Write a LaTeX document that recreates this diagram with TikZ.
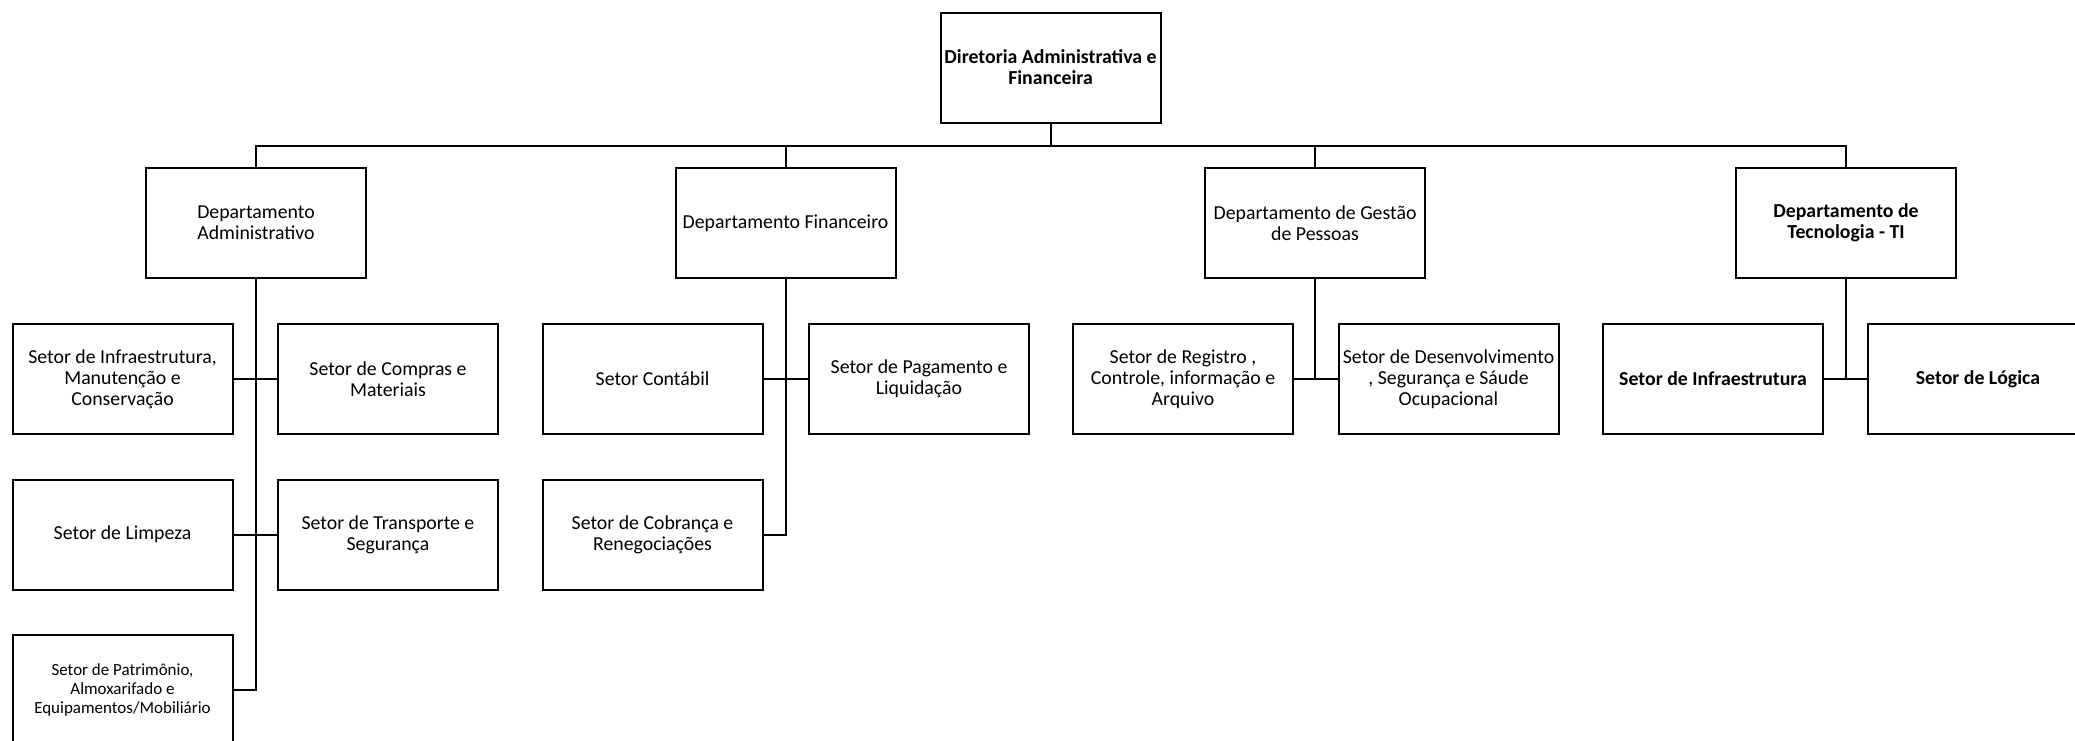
\documentclass[tikz,border=0pt]{standalone}
\usepackage{fontspec}
\setmainfont{Carlito}

\definecolor{Trait}{HTML}{000000}

\tikzset{
  boite/.style={draw=Trait, line width=1pt, minimum width=110pt, minimum height=55pt,
    inner sep=0.5pt, align=center, font=\fontsize{9.9}{10.6}\selectfont},
  boitegras/.style={boite, font=\fontsize{9.9}{10.6}\selectfont\bfseries},
  lien/.style={draw=Trait, line width=1pt},
}

\begin{document}
\begin{tikzpicture}[x=0.5pt, y=-0.5pt]

 \useasboundingbox (0,0) rectangle (2075,740);

 %%%%%%%%%% Points pour travailler %%%%%%%%%%
 \coordinate (bus) at (0,146);

 %%%%%%%%%% Diretoria %%%%%%%%%%
 \node[boitegras] (dir) at (1050.5,67.5) {Diretoria Administrativa e\\Financeira};

 %%%%%%%%%% Departamentos %%%%%%%%%%
 \node[boite] (adm) at (256,223) {Departamento\\Administrativo};
 \node[boite] (fin) at (785.5,223) {Departamento Financeiro};
 \node[boite] (gp) at (1315,223) {Departamento de Gestão\\de Pessoas};
 \node[boitegras] (ti) at (1846,223) {Departamento de\\Tecnologia - TI};

 %%%%%%%%%% Setores - Administrativo %%%%%%%%%%
 \node[boite] (infra) at (122.5,379) {Setor de Infraestrutura,\\Manutenção e\\Conservação};
 \node[boite] (compras) at (388,379) {Setor de Compras e\\Materiais};
 \node[boite] (limp) at (122.5,534.5) {Setor de Limpeza};
 \node[boite] (transp) at (388,534.5) {Setor de Transporte e\\Segurança};
 \node[boite, font=\fontsize{8.5}{9.5}\selectfont] (patr) at (122.5,690) {Setor de Patrimônio,\\Almoxarifado e\\Equipamentos/Mobiliário};

 %%%%%%%%%% Setores - Financeiro %%%%%%%%%%
 \node[boite] (cont) at (652.5,379) {Setor Contábil};
 \node[boite] (pag) at (919,379) {Setor de Pagamento e\\Liquidação};
 \node[boite] (cobr) at (652.5,534.5) {Setor de Cobrança e\\Renegociações};

 %%%%%%%%%% Setores - Gestao de Pessoas %%%%%%%%%%
 \node[boite] (reg) at (1183,379) {Setor de Registro ,\\Controle, informação e\\Arquivo};
 \node[boite] (desenv) at (1448.5,379) {Setor de Desenvolvimento\\, Segurança e Sáude\\Ocupacional};

 %%%%%%%%%% Setores - TI %%%%%%%%%%
 \node[boitegras] (infrati) at (1713,379) {Setor de Infraestrutura};
 \node[boitegras] (logica) at (1978,379) {Setor de Lógica};

 %%%%%%%%%% Liens %%%%%%%%%%
 \draw[lien] (dir.south) -- (dir.south |- bus);
 \draw[lien] (adm.north) -- (adm.north |- bus) -| (ti.north);
 \draw[lien] (fin.north) -- (fin.north |- bus);
 \draw[lien] (gp.north) -- (gp.north |- bus);

 % Administrativo
 \draw[lien] (adm.south) |- (patr.east);
 \draw[lien] (infra.east) -- (compras.west);
 \draw[lien] (limp.east) -- (transp.west);

 % Financeiro
 \draw[lien] (fin.south) |- (cobr.east);
 \draw[lien] (cont.east) -- (pag.west);

 % Gestao de Pessoas
 \draw[lien] (gp.south) -- (gp.south |- reg.east);
 \draw[lien] (reg.east) -- (desenv.west);

 % TI
 \draw[lien] (ti.south) -- (ti.south |- infrati.east);
 \draw[lien] (infrati.east) -- (logica.west);

\end{tikzpicture}
\end{document}
